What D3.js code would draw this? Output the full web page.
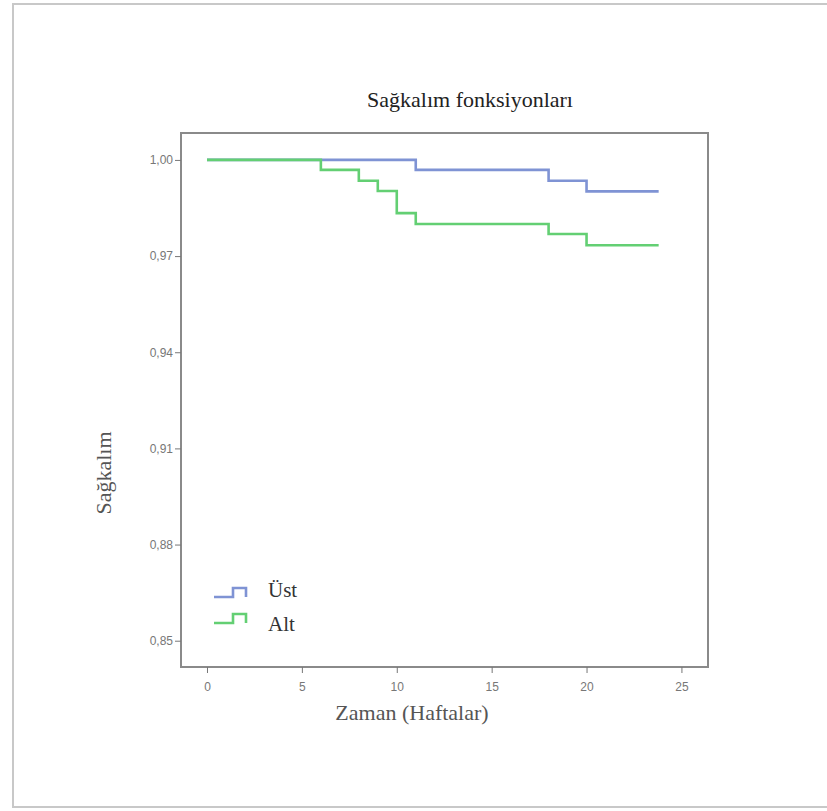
<!DOCTYPE html>
<html lang="tr">
<head>
  <meta charset="UTF-8">
  <title>Sağkalım fonksiyonları</title>
  <script src="https://cdn.jsdelivr.net/npm/d3@7"></script>
  <style>
    body { margin: 0; background: #fff; }
    .tick text { font: 12px "Liberation Sans", Arial, sans-serif; fill: #777; }
    .tick line { stroke: #777; }
    .serif { font-family: "Liberation Serif", "Times New Roman", serif; }
  </style>
</head>
<body>
<svg id="chart" width="827" height="811"></svg>
<script>
// Kaplan-Meier steps (time in weeks, survival)
var ustTimes  = [0, 11, 18, 20, 23.8];
var ustSurv   = [1.0, 0.9969, 0.9935, 0.9902, 0.9902];
var altTimes  = [0, 6, 8, 9, 10, 11, 18, 20, 23.8];
var altSurv   = [1.0, 0.9969, 0.9935, 0.9903, 0.9834, 0.9800, 0.9769, 0.9734, 0.9734];
var xTicks    = [0, 5, 10, 15, 20, 25];
var yTicks    = [0.85, 0.88, 0.91, 0.94, 0.97, 1.00];
var seriesNames = ["Üst", "Alt"];
var colors = ["#7f93d4", "#63cf73"];

var svg = d3.select("#chart");

// page frame
svg.append("rect").attr("x", 13).attr("y", 4).attr("width", 830).attr("height", 803)
  .attr("fill", "none").attr("stroke", "#c8c8c8").attr("stroke-width", 2);

var frame = {left: 181, top: 133, right: 708, bottom: 667};

var x = d3.scaleLinear().domain([-1.37, 26.4]).range([frame.left, frame.right]);
var y = d3.scaleLinear().domain([0.8418, 1.0084]).range([frame.bottom, frame.top]);

svg.append("rect")
  .attr("x", frame.left).attr("y", frame.top)
  .attr("width", frame.right - frame.left).attr("height", frame.bottom - frame.top)
  .attr("fill", "none").attr("stroke", "#8a8a8a").attr("stroke-width", 2);

var fmt = function(d) { return d3.format(".2f")(d).replace(".", ","); };

svg.append("g")
  .attr("transform", "translate(" + frame.left + ",0)")
  .call(d3.axisLeft(y).tickValues(yTicks).tickFormat(fmt).tickSize(6).tickPadding(2))
  .call(function(g) { g.select(".domain").remove(); });

svg.append("g")
  .attr("transform", "translate(0," + frame.bottom + ")")
  .call(d3.axisBottom(x).tickValues(xTicks).tickSize(6).tickPadding(9))
  .call(function(g) { g.select(".domain").remove(); });

var line = d3.line()
  .x(function(d) { return x(d[0]); })
  .y(function(d) { return y(d[1]); })
  .curve(d3.curveStepAfter);

var series = [d3.zip(ustTimes, ustSurv), d3.zip(altTimes, altSurv)];

svg.selectAll(".km")
  .data(series)
  .enter().append("path")
    .attr("class", "km")
    .attr("d", line)
    .attr("fill", "none")
    .attr("stroke", function(d, i) { return colors[i]; })
    .attr("stroke-width", 2.6);

// legend
var legend = svg.append("g").attr("transform", "translate(214,597)");
seriesNames.forEach(function(name, i) {
  legend.append("path")
    .attr("transform", "translate(0," + (i * 26) + ")")
    .attr("d", "M0,0 H19 V-9 H32 V0")
    .attr("fill", "none").attr("stroke", colors[i]).attr("stroke-width", 2.6);
  legend.append("text").attr("class", "serif")
    .attr("x", 54).attr("y", i * 34)
    .attr("font-size", 21).attr("fill", "#333")
    .text(name);
});

svg.append("text").attr("class", "serif")
  .attr("x", 470).attr("y", 107).attr("text-anchor", "middle")
  .attr("font-size", 22).attr("fill", "#222")
  .text("Sağkalım fonksiyonları");

svg.append("text").attr("class", "serif")
  .attr("x", 412).attr("y", 720).attr("text-anchor", "middle")
  .attr("font-size", 22).attr("fill", "#555")
  .text("Zaman (Haftalar)");

svg.append("text").attr("class", "serif")
  .attr("transform", "translate(111,473) rotate(-90)")
  .attr("text-anchor", "middle")
  .attr("font-size", 22).attr("fill", "#555")
  .text("Sağkalım");
</script>
</body>
</html>
